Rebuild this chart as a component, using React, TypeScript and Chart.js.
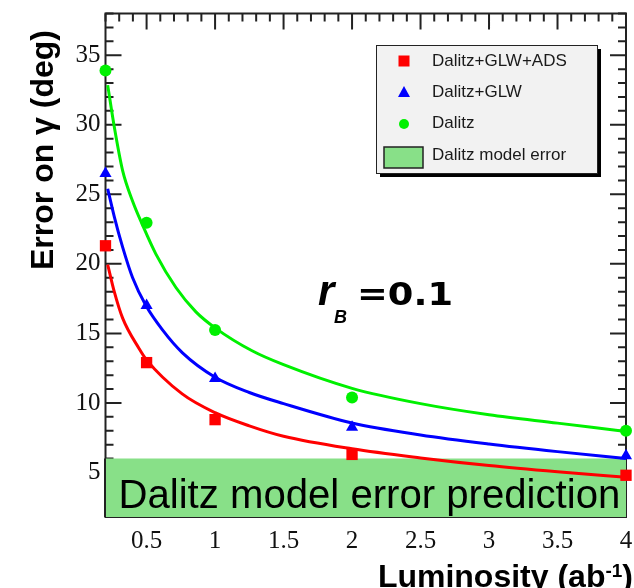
import React, { useEffect, useRef } from "react";
import { Chart, registerables } from "chart.js";

Chart.register(...registerables);

// ---- data ----
const luminosity = [0.2, 0.5, 1, 2, 4];
const errDalitzGlwAds = [21.3, 12.9, 8.8, 6.3, 4.8];
const errDalitzGlw = [26.5, 17.0, 11.75, 8.25, 6.2];
const errDalitz = [33.9, 22.95, 15.25, 10.4, 8.0];

const fitXGlwAds = [0.216, 0.264, 0.325, 0.446, 0.5, 0.76, 1, 1.25, 1.5, 2, 2.5, 3, 3.5, 4];
const fitGlwAds = [19.95, 18.0, 16.1, 13.9, 13.1, 10.65, 9.3, 8.35, 7.6, 6.7, 6.05, 5.5, 5.05, 4.65];

const fitXGlw = [0.216, 0.264, 0.325, 0.398, 0.495, 0.616, 0.762, 1, 1.25, 1.5, 2, 2.5, 3, 3.5, 4];
const fitGlw = [25.4, 23.4, 21.2, 19.0, 17.0, 15.25, 13.6, 11.85, 10.75, 9.95, 8.56, 7.7, 7.05, 6.5, 6.0];

const fitXDalitz = [0.216, 0.264, 0.325, 0.398, 0.47, 0.568, 0.714, 0.86, 1, 1.27, 1.5, 2, 2.5, 3, 3.5, 4];
const fitDalitz = [32.85, 29.85, 26.7, 24.5, 22.8, 20.7, 18.3, 16.55, 15.4, 13.75, 12.75, 11.05, 9.95, 9.15, 8.55, 7.95];

const bandX = [0.2, 4];
const bandUpper = [6, 6];

const seriesLabels = ["Dalitz+GLW+ADS", "Dalitz+GLW", "Dalitz", "Dalitz model error"];
const seriesColors = ["#ff0000", "#0000ff", "#00f000", "#88e088"];

const xTickValues = [0.5, 1, 1.5, 2, 2.5, 3, 3.5, 4];
const yTickValues = [5, 10, 15, 20, 25, 30, 35];

const yTitle = "Error on \u03b3 (deg)";
const xTitle = "Luminosity (ab";
const xTitleSup = "-1";
const bandText = "Dalitz model error prediction";

const pts = (xs: number[], ys: number[]) => xs.map((x, i) => ({ x, y: ys[i] }));

const framePlugin = {
  id: "frameTicks",
  beforeDatasetsDraw(chart: any) {
    const { ctx, chartArea: a, scales } = chart;
    const x = scales.x;
    const y = scales.y;
    ctx.save();
    ctx.strokeStyle = "#222";
    ctx.lineWidth = 2;
    ctx.strokeRect(a.left, a.top, a.right - a.left, a.bottom - a.top);
    ctx.beginPath();
    for (let v = Math.ceil(y.min); v <= y.max; v++) {
      const py = y.getPixelForValue(v);
      const len = v % 5 === 0 ? 16 : 8;
      ctx.moveTo(a.left, py);
      ctx.lineTo(a.left + len, py);
      ctx.moveTo(a.right, py);
      ctx.lineTo(a.right - len, py);
    }
    for (let i = Math.round(x.min * 10); i <= Math.round(x.max * 10); i++) {
      const px = x.getPixelForValue(i / 10);
      const len = i % 5 === 0 ? 16 : 8;
      ctx.moveTo(px, a.top);
      ctx.lineTo(px, a.top + len);
      ctx.moveTo(px, a.bottom);
      ctx.lineTo(px, a.bottom - len);
    }
    ctx.stroke();
    ctx.restore();
  },
  afterDatasetsDraw(chart: any) {
    const { ctx, chartArea: a, scales } = chart;
    const y = scales.y;
    ctx.save();
    ctx.strokeStyle = "#222";
    ctx.lineWidth = 2;
    ctx.beginPath();
    ctx.moveTo(a.left - 0.5, y.getPixelForValue(bandUpper[0]));
    ctx.lineTo(a.left - 0.5, a.bottom);
    ctx.stroke();
    ctx.fillStyle = "#000";
    ctx.font = '40px "Liberation Sans", Arial, sans-serif';
    const w = ctx.measureText(bandText).width;
    const size = (40 * 502) / w;
    ctx.font = `${size}px "Liberation Sans", Arial, sans-serif`;
    ctx.textBaseline = "alphabetic";
    ctx.fillText(bandText, a.left + 13, a.bottom - 9);
    ctx.restore();
  },
  afterDraw(chart: any) {
    const { ctx } = chart;
    ctx.save();
    ctx.fillStyle = "#000";
    // y title
    ctx.save();
    ctx.translate(53, 150);
    ctx.rotate(-Math.PI / 2);
    ctx.font = 'bold 32px "Liberation Sans", Arial, sans-serif';
    ctx.textAlign = "center";
    ctx.textBaseline = "alphabetic";
    ctx.fillText(yTitle, 0, 0);
    ctx.restore();

    // x title
    ctx.font = 'bold 32px "Liberation Sans", Arial, sans-serif';
    const wMain = ctx.measureText(xTitle).width;
    const wClose = ctx.measureText(")").width;
    ctx.font = 'bold 19px "Liberation Sans", Arial, sans-serif';
    const wSup = ctx.measureText(xTitleSup).width;
    const endX = 633;
    const startX = endX - wClose - wSup - wMain;
    ctx.textAlign = "left";
    ctx.font = 'bold 32px "Liberation Sans", Arial, sans-serif';
    ctx.fillText(xTitle, startX, 587);
    ctx.fillText(")", startX + wMain + wSup, 587);
    ctx.font = 'bold 19px "Liberation Sans", Arial, sans-serif';
    ctx.fillText(xTitleSup, startX + wMain, 577);

    // r_B = 0.1
    ctx.font = 'italic bold 42px "Liberation Sans", Arial, sans-serif';
    ctx.fillText("r", 318, 305);
    ctx.font = 'italic bold 18px "Liberation Sans", Arial, sans-serif';
    ctx.fillText("B", 334, 323);
    ctx.font = 'bold 32px "DejaVu Sans", "Liberation Sans", Arial, sans-serif';
    const wEq = ctx.measureText("=0.1").width;
    ctx.save();
    ctx.translate(357, 305);
    ctx.scale(96 / wEq, 1);
    ctx.fillText("=0.1", 0, 0);
    ctx.restore();

    // legend
    const bx = 376, by = 45, bw = 221, bh = 128;
    ctx.fillStyle = "#000";
    ctx.fillRect(bx + 4, by + 4, bw, bh);
    ctx.fillStyle = "#f2f2f2";
    ctx.fillRect(bx, by, bw, bh);
    ctx.strokeStyle = "#222";
    ctx.lineWidth = 1;
    ctx.strokeRect(bx + 0.5, by + 0.5, bw, bh);
    const rows = [61, 92, 123, 155];
    const mx = 404;
    ctx.fillStyle = seriesColors[0];
    ctx.fillRect(mx - 5.5, rows[0] - 5.5, 11, 11);
    ctx.fillStyle = seriesColors[1];
    ctx.beginPath();
    ctx.moveTo(mx, rows[1] - 6);
    ctx.lineTo(mx + 6, rows[1] + 5);
    ctx.lineTo(mx - 6, rows[1] + 5);
    ctx.closePath();
    ctx.fill();
    ctx.fillStyle = seriesColors[2];
    ctx.beginPath();
    ctx.arc(mx, rows[2] + 1, 5, 0, Math.PI * 2);
    ctx.fill();
    ctx.fillStyle = seriesColors[3];
    ctx.fillRect(384, 147, 39, 21);
    ctx.strokeStyle = "#222";
    ctx.lineWidth = 1.5;
    ctx.strokeRect(384, 147, 39, 21);
    ctx.fillStyle = "#1a1a1a";
    ctx.font = '17px "Liberation Sans", Arial, sans-serif';
    ctx.textBaseline = "middle";
    seriesLabels.forEach((t, i) => ctx.fillText(t, 432, rows[i]));
    ctx.restore();
  },
};

const noPad = (s: any) => {
  s.paddingTop = 0;
  s.paddingBottom = 0;
  s.paddingLeft = 0;
  s.paddingRight = 0;
};

export default function App() {
  const ref = useRef<HTMLCanvasElement | null>(null);
  useEffect(() => {
    if (!ref.current) return;
    const markerBase = { showLine: false, clip: false as any, pointBorderWidth: 0, borderWidth: 0 };
    const curveBase = { borderWidth: 3, pointRadius: 0, cubicInterpolationMode: "monotone" as const, fill: false };
    const chart = new Chart(ref.current, {
      type: "line",
      data: {
        datasets: [
          { ...markerBase, label: seriesLabels[0], data: pts(luminosity, errDalitzGlwAds), pointStyle: "rect", pointRadius: 8, backgroundColor: seriesColors[0], borderColor: seriesColors[0] },
          { ...markerBase, label: seriesLabels[1], data: pts(luminosity, errDalitzGlw), pointStyle: "triangle", pointRadius: 7, backgroundColor: seriesColors[1], borderColor: seriesColors[1] },
          { ...markerBase, label: seriesLabels[2], data: pts(luminosity, errDalitz), pointStyle: "circle", pointRadius: 6, backgroundColor: seriesColors[2], borderColor: seriesColors[2] },
          { ...curveBase, label: "fit1", data: pts(fitXGlwAds, fitGlwAds), borderColor: seriesColors[0] },
          { ...curveBase, label: "fit2", data: pts(fitXGlw, fitGlw), borderColor: seriesColors[1] },
          { ...curveBase, label: "fit3", data: pts(fitXDalitz, fitDalitz), borderColor: seriesColors[2] },
          { label: seriesLabels[3], data: pts(bandX, bandUpper), borderWidth: 0, pointRadius: 0, fill: "start", backgroundColor: seriesColors[3], borderColor: "rgba(0,0,0,0)" },
        ],
      },
      options: {
        responsive: false,
        animation: false,
        devicePixelRatio: 1,
        layout: { padding: { left: 0, right: 6, top: 13.5, bottom: 0 } },
        plugins: { legend: { display: false }, tooltip: { enabled: false } },
        scales: {
          x: {
            type: "linear",
            min: 0.2,
            max: 4,
            grid: { display: false, drawTicks: false },
            border: { display: false },
            afterBuildTicks: (s: any) => { s.ticks = xTickValues.map((v) => ({ value: v })); },
            afterFit: (s: any) => { s.height = 71; noPad(s); },
            ticks: {
              autoSkip: false,
              maxRotation: 0,
              padding: 9,
              color: "#111",
              font: { family: '"Liberation Serif", "Times New Roman", serif', size: 25 },
              callback: (v: any) => String(v),
            },
          },
          y: {
            type: "linear",
            min: 1.8,
            max: 38,
            grid: { display: false, drawTicks: false },
            border: { display: false },
            afterBuildTicks: (s: any) => { s.ticks = yTickValues.map((v) => ({ value: v })); },
            afterFit: (s: any) => { s.width = 105.5; noPad(s); },
            ticks: {
              autoSkip: false,
              padding: 5,
              color: "#111",
              font: { family: '"Liberation Serif", "Times New Roman", serif', size: 25 },
              callback: (v: any) => String(v),
            },
          },
        },
      },
      plugins: [framePlugin],
    });
    return () => chart.destroy();
  }, []);
  return (
    <div style={{ position: "fixed", left: 0, top: 0, width: 634, height: 588, background: "#fff" }}>
      <canvas ref={ref} width={634} height={588} style={{ display: "block" }} />
    </div>
  );
}
